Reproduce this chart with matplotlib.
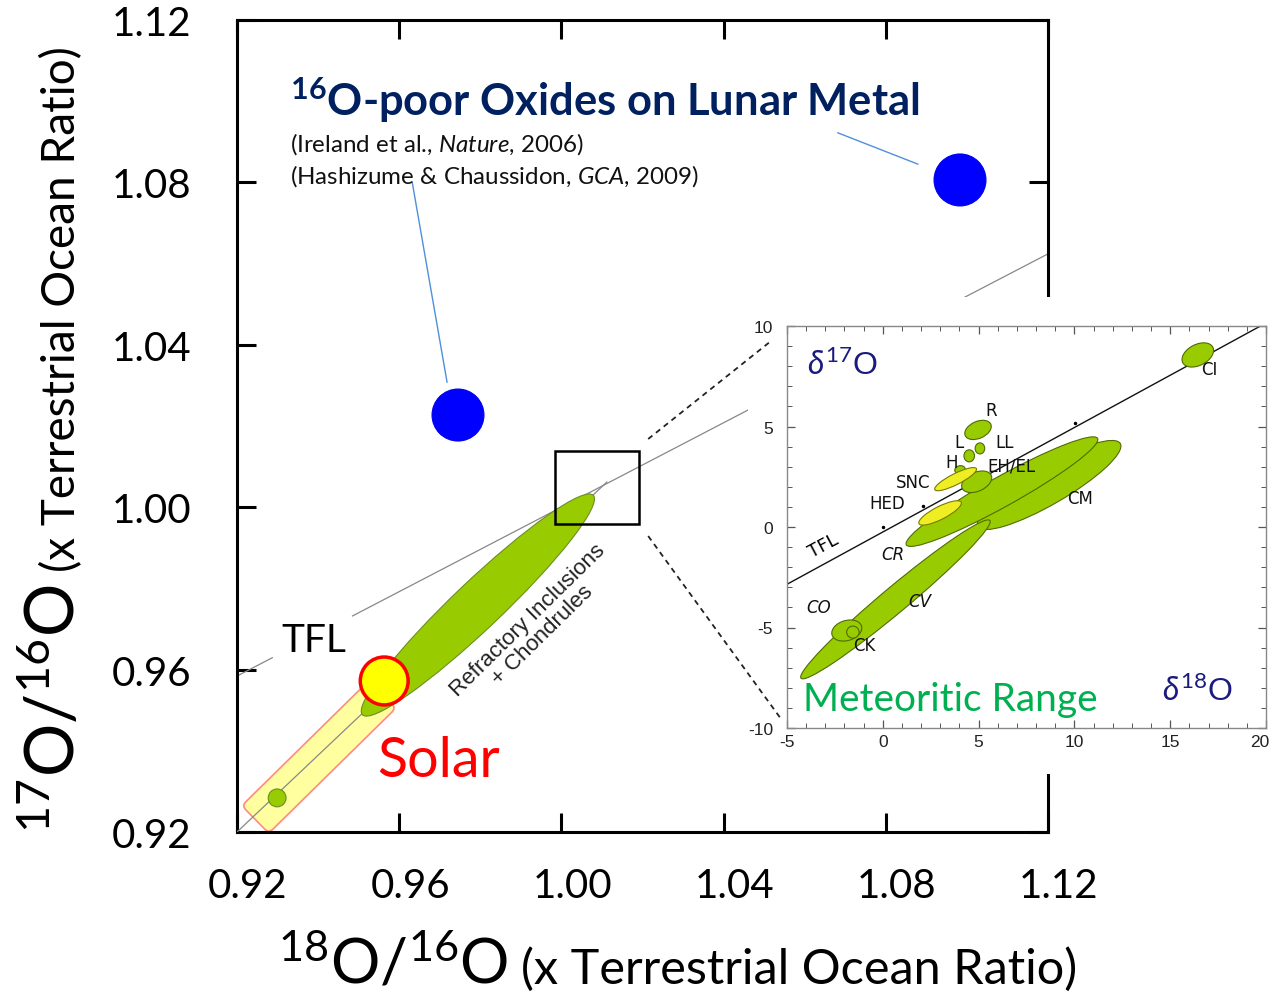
import matplotlib
matplotlib.use('Agg')
import matplotlib.pyplot as plt
import matplotlib.text as mtext
from matplotlib.patches import Ellipse, Circle, Rectangle, FancyBboxPatch
from matplotlib.lines import Line2D
from matplotlib.ticker import MultipleLocator
import matplotlib.transforms as mtransforms

plt.rcParams['font.family'] = ['Lato', 'DejaVu Sans']
plt.rcParams['mathtext.fontset'] = 'custom'
plt.rcParams['mathtext.rm'] = 'Lato'
plt.rcParams['mathtext.it'] = 'Lato:italic'
plt.rcParams['mathtext.bf'] = 'Lato:bold'
plt.rcParams['axes.unicode_minus'] = False

# ---------------- data: main plot ----------------
main_ticks = [0.92, 0.96, 1.00, 1.04, 1.08, 1.12]
main_ticklabels = ['0.92', '0.96', '1.00', '1.04', '1.08', '1.12']
tfl_slope = 0.52
tfl_segments_x = [(0.92, 0.9287), (0.9485, 1.12)]
slope1_line_x = [0.92, 1.0112]
slope1_line_y = [0.92, 1.0062]
solar_xy = (0.9563, 0.9572)
solar_r = 0.0059
genesis_dot_xy = (0.9299, 0.9284)
genesis_dot_r = 0.0022
lunar_oxides_x = [0.9745, 1.0983]
lunar_oxides_y = [1.0227, 1.0806]
lunar_r = 0.0064
leader_lines = [((0.9632, 0.9718), (1.0801, 1.0308)),
                ((1.0682, 1.0879), (1.0922, 1.0845))]
refractory_ellipse = dict(xy=(0.9794, 0.9759), width=0.0785, height=0.0118, angle=43.5)
solar_band = dict(cx=0.9402, cy=0.9385, length=0.0440, width=0.0095, angle=44.5)
zoom_box = dict(x0=0.9984, x1=1.0191, y0=0.9959, y1=1.0138)
dash_upper = ((1.0214, 1.0514), (1.0168, 1.0407))
dash_lower = ((1.0214, 1.0542), (0.9929, 0.9478))

# ---------------- data: inset (delta notation) ----------------
inset_xticks = [-5, 0, 5, 10, 15, 20]
inset_yticks = [-10, -5, 0, 5, 10]
inset_tfl_x = [-5, 20]
inset_tfl_intercept = -0.25
group_names = ['CM', 'CV', 'CR', 'CO', 'CK', 'CI', 'EH/EL', 'HED', 'H', 'SNC', 'L', 'LL', 'R']
group_cx = [8.68, 0.66, 6.22, -1.88, -1.56, 16.44, 4.90, 2.99, 4.03, 3.80, 4.51, 5.07, 4.97]
group_cy = [2.09, -3.60, 1.76, -5.15, -5.23, 8.56, 2.25, 0.70, 2.85, 2.38, 3.54, 3.91, 4.83]
group_w = [8.5, 12.6, 11.3, 1.6, 0.65, 1.75, 1.65, 2.45, 0.55, 2.41, 0.55, 0.5, 1.45]
group_h = [1.9, 1.3, 1.5, 1.0, 0.6, 1.05, 0.95, 0.65, 0.4, 0.55, 0.6, 0.55, 0.85]
group_angle = [28.9, 38.5, 27.9, 15, 0, 25, 22, 25.7, 10, 25.6, 0, 0, 22]
group_yellow = ['HED', 'SNC']
label_text = ['R', 'L', 'LL', 'H', 'EH/EL', 'SNC', 'HED', 'CR', 'CM', 'CV', 'CO', 'CK', 'CI']
label_x = [5.68, 3.99, 6.37, 3.59, 6.72, 1.56, 0.24, 0.52, 10.28, 1.94, -3.35, -0.97, 17.05]
label_y = [5.81, 4.24, 4.24, 3.21, 3.08, 2.22, 1.18, -1.34, 1.42, -3.69, -3.99, -5.89, 7.88]
label_italic = ['CR', 'CV', 'CO']
dots_x = [0.03, 2.08, 10.02]
dots_y = [-0.02, 1.03, 5.15]

W, H = 1272, 995
fig = plt.figure(figsize=(W / 100, H / 100), dpi=100)
fig.patch.set_facecolor('white')

# ---------------- main axes ----------------
ax = fig.add_axes([237 / W, 1 - 833 / H, 811 / W, 812 / H])
ax.set_xlim(0.92, 1.12)
ax.set_ylim(0.92, 1.12)
ax.set_xticks(main_ticks)
ax.set_xticklabels(main_ticklabels)
ax.set_yticks(main_ticks)
ax.set_yticklabels(main_ticklabels)
ax.tick_params(direction='in', length=14, width=2.2, top=True, right=True,
               labelsize=29, colors='black')
ax.tick_params(axis='x', pad=25)
ax.tick_params(axis='y', pad=33)
for s in ax.spines.values():
    s.set_linewidth(2.2)
offx = mtransforms.ScaledTranslation(11 / 100, 0, fig.dpi_scale_trans)
for lab in ax.get_xticklabels():
    lab.set_transform(lab.get_transform() + offx)

# TFL line (broken around its label)
for x0, x1 in tfl_segments_x:
    ax.plot([x0, x1], [1 + tfl_slope * (x0 - 1), 1 + tfl_slope * (x1 - 1)],
            color='#888888', lw=0.9, zorder=2)

# solar band
tr = mtransforms.Affine2D().rotate_deg(solar_band['angle']).translate(
    solar_band['cx'], solar_band['cy']) + ax.transData
band = FancyBboxPatch((-solar_band['length'] / 2, -solar_band['width'] / 2),
                      solar_band['length'], solar_band['width'],
                      boxstyle='round,pad=0,rounding_size=0.0014',
                      facecolor='#ffffa0', edgecolor='#ff8a80', lw=1.2,
                      transform=tr, zorder=2)
ax.add_patch(band)
ax.plot(slope1_line_x, slope1_line_y, color='#888888', lw=0.9, zorder=3)

ax.add_patch(Ellipse(refractory_ellipse['xy'], refractory_ellipse['width'],
                     refractory_ellipse['height'], angle=refractory_ellipse['angle'],
                     facecolor='#99cc00', edgecolor='#6b8e23', lw=0.8, zorder=4))
ax.add_patch(Circle(genesis_dot_xy, genesis_dot_r, facecolor='#99cc00',
                    edgecolor='#6b8e23', lw=0.8, zorder=5))
ax.add_patch(Circle(solar_xy, solar_r, facecolor='#ffff00', edgecolor='#ff0000',
                    lw=2.5, zorder=6))
for x, y in zip(lunar_oxides_x, lunar_oxides_y):
    ax.add_patch(Circle((x, y), lunar_r, facecolor='#0000ff', edgecolor='#0000ee',
                        lw=0.8, zorder=6))
for lx, ly in leader_lines:
    ax.plot(lx, ly, color='#4f8fdc', lw=1.0, zorder=3)

ax.add_patch(Rectangle((zoom_box['x0'], zoom_box['y0']),
                       zoom_box['x1'] - zoom_box['x0'], zoom_box['y1'] - zoom_box['y0'],
                       facecolor='none', edgecolor='black', lw=1.8, zorder=6))

ax.text(0.9331, 1.0966, r'$\mathbf{^{16}}$O-poor Oxides on Lunar Metal',
        fontsize=31.3, fontweight='bold', color='#002060', va='baseline', ha='left')
ax.text(0.9331, 1.0897, r'(Ireland et al., $\mathit{Nature}$, 2006)',
        fontsize=17.4, color='#111111', va='center', ha='left')
ax.text(0.9331, 1.0818, r'(Hashizume & Chaussidon, $\mathit{GCA}$, 2009)',
        fontsize=17.4, color='#111111', va='center', ha='left')
ax.text(0.939, 0.9673, 'TFL', fontsize=28, color='black', ha='center', va='center')
ax.text(0.9696, 0.9375, 'Solar', fontsize=40, color='#ff0000', ha='center', va='center')
ax.text(0.9935, 0.9705, 'Refractory Inclusions\n+ Chondrules', fontsize=16,
        family='Liberation Sans', color='#222222', rotation=44.5,
        ha='center', va='center', multialignment='center', linespacing=1.05)

# axis labels (mixed sizes)
big_x = fig.text(278 / W, 1 - 984 / H, r'$^{18}$O/$^{16}$O', fontsize=44.5,
                 ha='left', va='baseline')
fig.add_artist(mtext.Annotation(
    '(x Terrestrial Ocean Ratio)', xy=(1, 1 - 984 / H),
    xycoords=(big_x, 'figure fraction'), xytext=(9, 0), textcoords='offset points',
    fontsize=35, ha='left', va='baseline'))
big_y = fig.text(75 / W, 1 - 833 / H, r'$^{17}$O/$^{16}$O', fontsize=48,
                 rotation=90, rotation_mode='anchor', ha='left', va='baseline')
fig.add_artist(mtext.Annotation(
    '(x Terrestrial Ocean Ratio)', xy=(75 / W, 1),
    xycoords=('figure fraction', big_y), xytext=(0, 9), textcoords='offset points',
    fontsize=33, rotation=90, rotation_mode='anchor', ha='left', va='baseline'))

# white backdrop behind the inset
fig.add_artist(Rectangle((748 / W, 1 - 775 / H), (W - 748) / W, (775 - 298) / H,
                         transform=fig.transFigure, facecolor='white',
                         edgecolor='none', zorder=1))
# dashed connectors
for lx, ly in (dash_upper, dash_lower):
    fig.add_artist(Line2D(lx, ly, transform=ax.transData, color='#222222', lw=1.3,
                          ls=(0, (3, 2.5)), zorder=3))

# ---------------- inset ----------------
ai = fig.add_axes([787 / W, 1 - 729 / H, (1266 - 787) / W, (729 - 327) / H])
ai.set_zorder(2)
ai.set_facecolor('white')
ai.set_xlim(-5, 20)
ai.set_ylim(-10, 10)
ai.set_xticks(inset_xticks)
ai.set_yticks(inset_yticks)
ai.xaxis.set_minor_locator(MultipleLocator(1))
ai.yaxis.set_minor_locator(MultipleLocator(1))
ai.tick_params(which='both', direction='in', top=True, right=True, colors='#555555',
               labelcolor='#222222', labelsize=12.5)
ai.tick_params(which='major', length=6, width=0.9)
ai.tick_params(which='minor', length=3.5, width=0.7)
ai.tick_params(axis='x', pad=4)
ai.tick_params(axis='y', pad=10)
for lab in ai.get_xticklabels() + ai.get_yticklabels():
    lab.set_family('Liberation Sans')
# keep the last x tick label inside the figure edge
last_lab = ai.get_xticklabels()[-1]
last_lab.set_transform(last_lab.get_transform() +
                       mtransforms.ScaledTranslation(-6 / 100, 0, fig.dpi_scale_trans))
for s in ai.spines.values():
    s.set_color('#888888')
    s.set_linewidth(1.0)

ai.plot(inset_tfl_x, [tfl_slope * x + inset_tfl_intercept for x in inset_tfl_x],
        color='#111111', lw=1.0, zorder=2)
for i, name in enumerate(group_names):
    yellow = name in group_yellow
    ai.add_patch(Ellipse((group_cx[i], group_cy[i]), group_w[i], group_h[i],
                         angle=group_angle[i],
                         facecolor='#eeee22' if yellow else '#99cc00',
                         edgecolor='#7a7a00' if yellow else '#4f6b00',
                         lw=0.8, zorder=3 + i * 0.01))
ai.plot(dots_x, dots_y, 'o', color='black', ms=1.5, zorder=4)
for t, x, y in zip(label_text, label_x, label_y):
    ai.text(x, y, t, fontsize=12, family='DejaVu Sans', color='#111111',
            style='italic' if t in label_italic else 'normal',
            ha='center', va='center', zorder=5)
ai.text(-3.12, -0.89, 'TFL', fontsize=13, family='DejaVu Sans', rotation=28,
        ha='center', va='center', zorder=5)
ai.text(-3.96, 8.1, r'$\delta^{17}$O', fontsize=23, color='#1a1a80',
        ha='left', va='center', family='Liberation Sans')
ai.text(18.26, -8.13, r'$\delta^{18}$O', fontsize=23, color='#1a1a80',
        ha='right', va='center', family='Liberation Sans')
ai.text(-4.17, -8.56, 'Meteoritic Range', fontsize=28, color='#00b050',
        ha='left', va='center')

fig.savefig('out.png', dpi=100, facecolor='white')
